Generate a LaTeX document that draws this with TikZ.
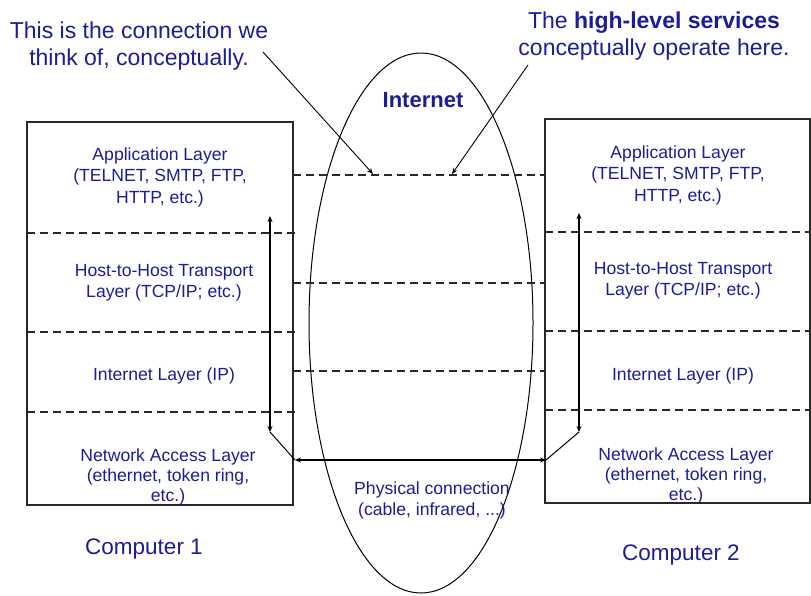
\documentclass[tikz,border=0pt]{standalone}
\usepackage{fontspec}
\setmainfont{Liberation Sans}
\usetikzlibrary{arrows.meta,shapes.geometric}
\definecolor{labelblue}{RGB}{28,28,150}
\definecolor{edgegray}{RGB}{40,40,40}
\begin{document}
\begin{tikzpicture}[x=1pt,y=-1pt,
  hostbox/.style={draw=edgegray, line width=2pt, inner sep=0pt, minimum width=266pt, minimum height=383pt},
  layerline/.style={draw=edgegray, line width=1.4pt, dash pattern=on 8pt off 5pt},
  layertext/.style={text=labelblue, align=center, inner sep=0pt, font=\fontsize{17.6}{21.5}\selectfont},
  calltext/.style={text=labelblue, align=center, inner sep=0pt, font=\fontsize{23}{27.5}\selectfont},
  pctext/.style={text=labelblue, inner sep=0pt, font=\fontsize{22.5}{26}\selectfont},
  callout/.style={draw=black, line width=0.9pt, -{Stealth[length=6pt,width=5pt]}},
  flow/.style={draw=black, line width=1.3pt},
  twoway/.style={flow, {Stealth[length=6pt,width=5pt]}-{Stealth[length=6pt,width=5pt]}}
]
\useasboundingbox (0,0) rectangle (811,595);

% the two hosts
\node[hostbox] (host1) at (160,313) {};
\node[hostbox, minimum width=265pt, minimum height=384pt] (host2) at (677.5,311) {};

% the Internet between them
\node[draw=black, line width=1pt, ellipse, inner sep=0pt,
      minimum width=224pt, minimum height=540pt] (net) at (421,323) {};
\node[text=labelblue, inner sep=0pt, font=\fontsize{22}{26}\selectfont\bfseries] (netlabel) at (423,100) {Internet};

% layer separators inside each host
\draw[layerline] (27,233) -- (296,233);
\draw[layerline] (27,332) -- (296,332);
\draw[layerline] (27,412) -- (296,412);
\draw[layerline] (545,232) -- (810,232);
\draw[layerline] (545,331) -- (810,331);
\draw[layerline] (545,410) -- (810,410);

% peer-to-peer (conceptual) links across the Internet
\draw[layerline] (293,175) -- (545,175);
\draw[layerline] (293,283) -- (545,283);
\draw[layerline] (293,371) -- (545,371);

% layer names, host 1
\node[layertext] (app1) at (160,177) {Application Layer\\(TELNET, SMTP, FTP,\\HTTP, etc.)};
\node[layertext] (tr1) at (164,283) {Host-to-Host Transport\\Layer (TCP/IP; etc.)};
\node[layertext] (ip1) at (164,376) {Internet Layer (IP)};
\node[layertext, font=\fontsize{17.6}{20}\selectfont] (na1) at (168,477) {Network Access Layer\\(ethernet, token ring,\\etc.)};

% layer names, host 2
\node[layertext] (app2) at (678,175) {Application Layer\\(TELNET, SMTP, FTP,\\HTTP, etc.)};
\node[layertext] (tr2) at (683,281) {Host-to-Host Transport\\Layer (TCP/IP; etc.)};
\node[layertext] (ip2) at (683,376) {Internet Layer (IP)};
\node[layertext, font=\fontsize{17.6}{20}\selectfont] (na2) at (686,476) {Network Access Layer\\(ethernet, token ring,\\etc.)};

% physical link
\node[layertext, font=\fontsize{17.6}{21}\selectfont] (phys) at (432,500) {Physical connection\\(cable, infrared, ...)};

% host captions
\node[pctext] (pc1) at (144,549) {Computer 1};
\node[pctext] (pc2) at (681,555) {Computer 2};

% callouts
\node[calltext] (note1) at (139,46) {This is the connection we\\think of, conceptually.};
\node[calltext] (note2) at (654,36) {The \textbf{high-level services}\\conceptually operate here.};
\coordinate (note1end) at (263,52);
\coordinate (note2end) at (528,65);
\coordinate (peer1) at (373,174);
\coordinate (peer2) at (452,174);
\draw[callout] (note1end) -- (peer1);
\draw[callout] (note2end) -- (peer2);

% data path: down the stack, across the wire, up the stack
\coordinate (l-top) at (270,216);
\coordinate (l-bot) at (270,432);
\coordinate (l-phy) at (295,460);
\coordinate (r-phy) at (546,460);
\coordinate (r-bot) at (579,432);
\coordinate (r-top) at (579,213);
\draw[twoway] (l-top) -- (l-bot);
\draw[flow, line width=1pt] (l-bot) -- (l-phy);
\draw[twoway] (l-phy) -- (r-phy);
\draw[flow, line width=1pt] (r-phy) -- (r-bot);
\draw[twoway] (r-bot) -- (r-top);
\end{tikzpicture}
\end{document}
